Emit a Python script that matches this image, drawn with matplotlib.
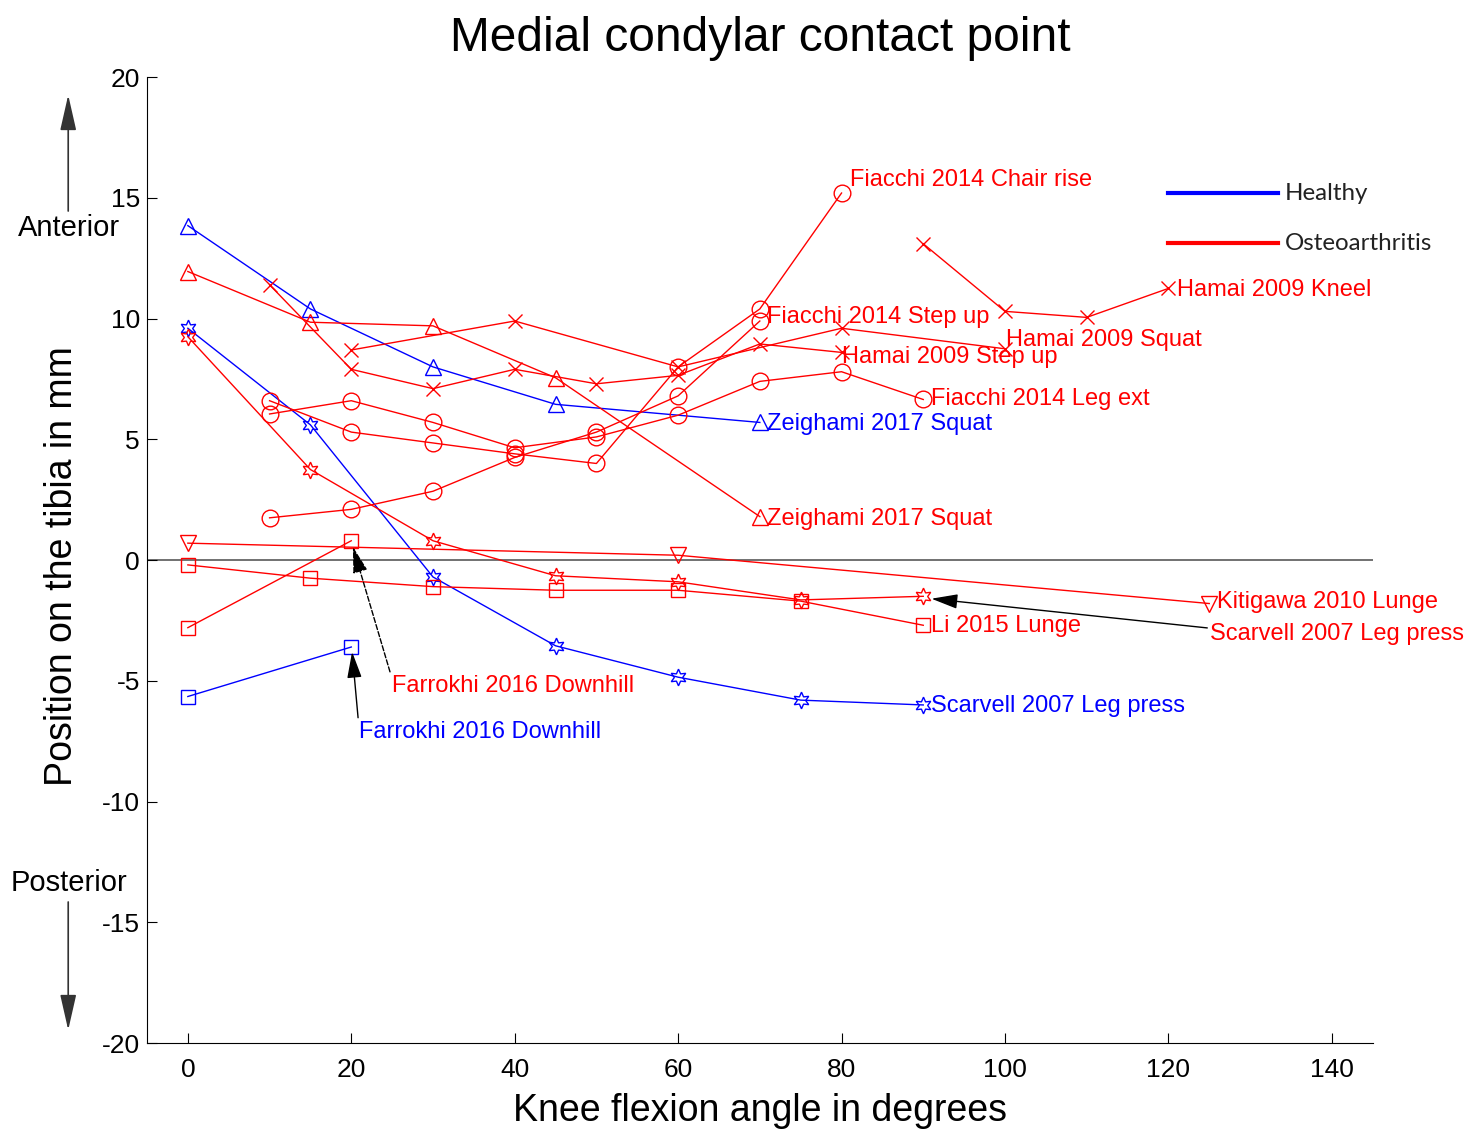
import matplotlib
matplotlib.use('Agg')
import matplotlib.pyplot as plt

plt.rcParams['font.family'] = ['Liberation Sans', 'DejaVu Sans']
plt.rcParams['axes.unicode_minus'] = False

BLUE = '#0000ff'
RED = '#ff0000'

# Healthy knees
h_zeig_x = [0, 15, 30, 45, 70]
h_zeig_y = [13.85, 10.4, 8.0, 6.45, 5.7]
h_scar_x = [0, 15, 30, 45, 60, 75, 90]
h_scar_y = [9.6, 5.6, -0.7, -3.55, -4.85, -5.8, -6.0]
h_farr_x = [0, 20]
h_farr_y = [-5.65, -3.6]

# Osteoarthritis knees
oa_zeig_x = [0, 15, 30, 45, 70]
oa_zeig_y = [11.95, 9.85, 9.7, 7.55, 1.8]
oa_scar_x = [0, 15, 30, 45, 60, 75, 90]
oa_scar_y = [9.25, 3.75, 0.8, -0.65, -0.9, -1.65, -1.5]
oa_farr_x = [0, 20]
oa_farr_y = [-2.8, 0.8]
li_x = [0, 15, 30, 45, 60, 75, 90]
li_y = [-0.2, -0.75, -1.1, -1.25, -1.25, -1.7, -2.7]
kit_x = [0, 60, 125]
kit_y = [0.7, 0.2, -1.8]
hamai_kneel_x = [90, 100, 110, 120]
hamai_kneel_y = [13.1, 10.3, 10.05, 11.25]
hamai_squat_x = [20, 40, 60, 80, 100]
hamai_squat_y = [8.7, 9.9, 8.0, 9.6, 8.75]
hamai_step_x = [10, 20, 30, 40, 50, 60, 70, 80]
hamai_step_y = [11.4, 7.9, 7.1, 7.9, 7.3, 7.65, 8.95, 8.6]
fia_chair_x = [10, 20, 30, 40, 50, 60, 70, 80]
fia_chair_y = [6.6, 5.3, 4.85, 4.4, 4.0, 8.0, 10.4, 15.2]
fia_step_x = [10, 20, 30, 40, 50, 60, 70]
fia_step_y = [1.75, 2.1, 2.85, 4.25, 5.3, 6.8, 9.9]
fia_leg_x = [10, 20, 30, 40, 50, 60, 70, 80, 90]
fia_leg_y = [6.05, 6.6, 5.7, 4.65, 5.1, 6.0, 7.4, 7.8, 6.65]

fig = plt.figure(figsize=(14.67, 11.31), dpi=100)
ax = fig.add_axes([0.1002, 0.0778, 0.8355, 0.854])

hexa = (6, 1, 0)
common = dict(lw=1.0, mfc='none', mew=1.0)

ax.axhline(0, color='0.35', lw=1.2, zorder=1)

ax.plot(h_zeig_x, h_zeig_y, '-^', color=BLUE, ms=12, **common)
ax.plot(h_scar_x, h_scar_y, '-', marker=hexa, color=BLUE, ms=12, **common)
ax.plot(h_farr_x, h_farr_y, '-s', color=BLUE, ms=10, **common)

ax.plot(oa_zeig_x, oa_zeig_y, '-^', color=RED, ms=12, **common)
ax.plot(oa_scar_x, oa_scar_y, '-', marker=hexa, color=RED, ms=12, **common)
ax.plot(oa_farr_x, oa_farr_y, '-s', color=RED, ms=10, **common)
ax.plot(li_x, li_y, '-s', color=RED, ms=10, **common)
ax.plot(kit_x, kit_y, '-v', color=RED, ms=12, **common)
ax.plot(hamai_kneel_x, hamai_kneel_y, '-x', color=RED, ms=10, **common)
ax.plot(hamai_squat_x, hamai_squat_y, '-x', color=RED, ms=10, **common)
ax.plot(hamai_step_x, hamai_step_y, '-x', color=RED, ms=10, **common)
ax.plot(fia_chair_x, fia_chair_y, '-o', color=RED, ms=12, **common)
ax.plot(fia_step_x, fia_step_y, '-o', color=RED, ms=12, **common)
ax.plot(fia_leg_x, fia_leg_y, '-o', color=RED, ms=12, **common)

# series labels
fs = 17
lab = dict(fontsize=fs, va='center', ha='left')
ax.text(81.0, 15.75, 'Fiacchi 2014 Chair rise', color=RED, **lab)
ax.text(121.1, 11.2, 'Hamai 2009 Kneel', color=RED, **lab)
ax.text(70.9, 10.05, 'Fiacchi 2014 Step up', color=RED, **lab)
ax.text(100.1, 9.1, 'Hamai 2009 Squat', color=RED, **lab)
ax.text(80.0, 8.4, 'Hamai 2009 Step up', color=RED, **lab)
ax.text(91.0, 6.65, 'Fiacchi 2014 Leg ext', color=RED, **lab)
ax.text(70.9, 5.65, 'Zeighami 2017 Squat', color=BLUE, **lab)
ax.text(70.9, 1.7, 'Zeighami 2017 Squat', color=RED, **lab)
ax.text(126.0, -1.75, 'Kitigawa 2010 Lunge', color=RED, **lab)
ax.text(91.0, -2.75, 'Li 2015 Lunge', color=RED, **lab)
ax.text(91.0, -6.05, 'Scarvell 2007 Leg press', color=BLUE, **lab)

arr = dict(arrowstyle='-|>,head_width=0.25,head_length=0.9', color='k',
           lw=1.0, shrinkA=0, shrinkB=0, mutation_scale=18)
ax.annotate('Scarvell 2007 Leg press', xy=(91, -1.6), xytext=(125.1, -3.05),
            color=RED, fontsize=fs, va='center', ha='left',
            arrowprops=dict(arr, relpos=(0, 0.75)))
ax.annotate('Farrokhi 2016 Downhill', xy=(20.2, 0.55), xytext=(25.0, -5.2),
            color=RED, fontsize=fs, va='center', ha='left',
            arrowprops=dict(arr, linestyle='--', relpos=(0, 0.8)))
ax.annotate('Farrokhi 2016 Downhill', xy=(20.1, -3.8), xytext=(20.9, -7.1),
            color=BLUE, fontsize=fs, va='center', ha='left',
            arrowprops=dict(arr, relpos=(0, 0.85)))

ax.set_xlim(-5, 145)
ax.set_ylim(-20, 20)
ax.set_xticks(range(0, 141, 20))
ax.set_yticks(range(-20, 21, 5))
ax.tick_params(direction='in', labelsize=19, length=7)
ax.tick_params(axis='x', pad=11)
ax.tick_params(axis='y', pad=5)
ax.spines['top'].set_visible(False)
ax.spines['right'].set_visible(False)

ax.set_title('Medial condylar contact point', fontsize=34.5, pad=19)
ax.set_xlabel('Knee flexion angle in degrees', fontsize=27, labelpad=8)
ax.set_ylabel('Position on the tibia in mm', fontsize=27)
ax.yaxis.set_label_coords(-0.055, 0.494)

# legend drawn by hand (no frame)
ax.plot([0.8328, 0.9225], [0.8799, 0.8799], color=BLUE, lw=3,
        transform=ax.transAxes, clip_on=False)
ax.plot([0.8328, 0.9225], [0.8282, 0.8282], color=RED, lw=3,
        transform=ax.transAxes, clip_on=False)
ax.text(0.928, 0.8799, 'Healthy', transform=ax.transAxes, fontsize=17.4,
        va='center', ha='left', family='Lato', color='#222222')
ax.text(0.928, 0.8282, 'Osteoarthritis', transform=ax.transAxes, fontsize=17.4,
        va='center', ha='left', family='Lato', color='#222222')

# anterior / posterior hints
fig.text(0.047, 0.7984, 'Anterior', fontsize=21, ha='center', va='center')
fig.text(0.047, 0.2193, 'Posterior', fontsize=21, ha='center', va='center')
dir_arr = dict(arrowstyle='-|>,head_width=0.25,head_length=1.1', color='0.2',
               lw=1.2, mutation_scale=20, shrinkA=0, shrinkB=0)
fig.add_artist(matplotlib.patches.FancyArrowPatch(
    (0.0465, 0.8134), (0.0465, 0.916), transform=fig.transFigure, **dir_arr))
fig.add_artist(matplotlib.patches.FancyArrowPatch(
    (0.0465, 0.2025), (0.0465, 0.0893), transform=fig.transFigure, **dir_arr))

fig.savefig('out.png', dpi=100)
